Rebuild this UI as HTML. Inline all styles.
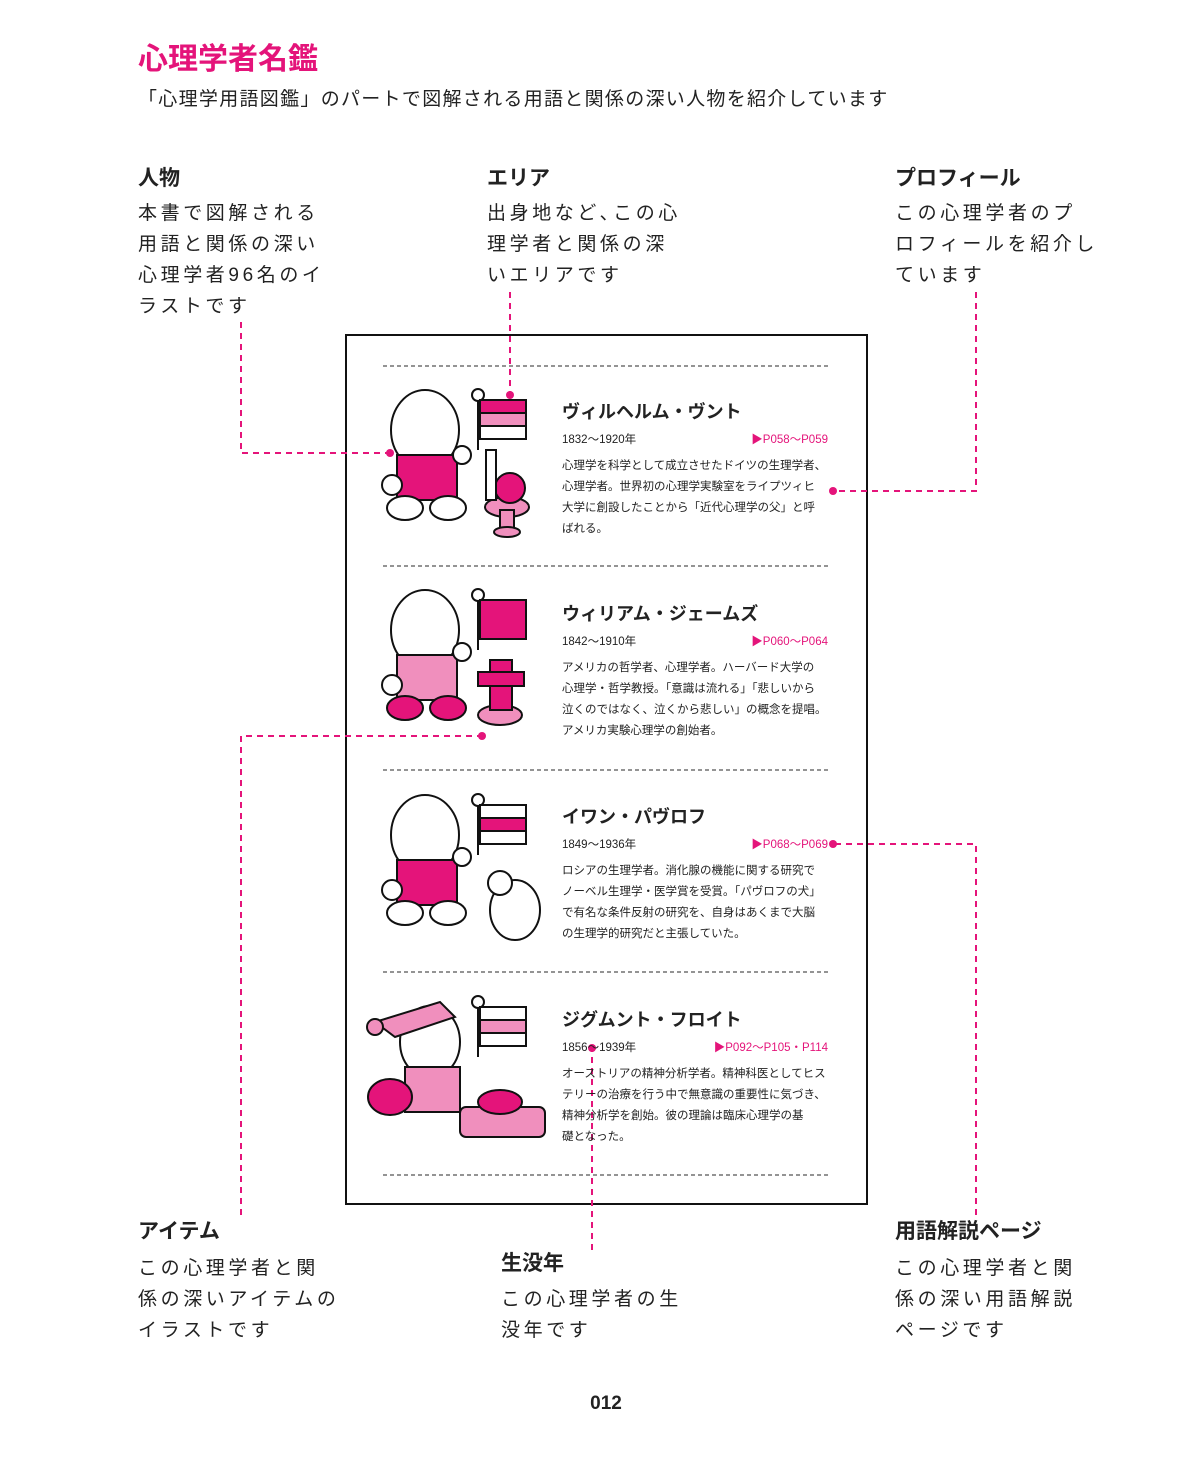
<!DOCTYPE html>
<html><head><meta charset="utf-8"><style>
body{margin:0;background:#fff;}
#p{position:relative;width:1200px;height:1468px;overflow:hidden;font-family:"Liberation Sans","Noto Sans CJK JP",sans-serif;color:#222;}
.a{position:absolute;white-space:nowrap;}
.h{font-weight:bold;font-size:21px;}
.b{font-size:19px;line-height:31px;letter-spacing:3.6px;}
.nm{font-weight:bold;font-size:18px;}
.yr{font-size:11.5px;}
.pg{font-size:11.5px;color:#e4147a;text-align:right;width:160px;}
.ds{font-size:11.5px;line-height:21px;}
</style></head><body><div id="p">
<div class="a" style="left:138px;top:34px;font-size:30px;font-weight:bold;color:#e4147a;">心理学者名鑑</div>
<div class="a" style="left:138px;top:84px;font-size:19px;letter-spacing:1.3px;">「心理学用語図鑑」のパートで図解される用語と関係の深い人物を紹介しています</div>

<div class="a h" style="left:138px;top:162px;">人物</div>
<div class="a b" style="left:138px;top:198px;">本書で図解される<br>用語と関係の深い<br>心理学者96名のイ<br>ラストです</div>
<div class="a h" style="left:487px;top:162px;">エリア</div>
<div class="a b" style="left:487px;top:198px;">出身地など､この心<br>理学者と関係の深<br>いエリアです</div>
<div class="a h" style="left:895px;top:162px;">プロフィール</div>
<div class="a b" style="left:895px;top:198px;">この心理学者のプ<br>ロフィールを紹介し<br>ています</div>

<div class="a h" style="left:138px;top:1215px;">アイテム</div>
<div class="a b" style="left:138px;top:1253px;">この心理学者と関<br>係の深いアイテムの<br>イラストです</div>
<div class="a h" style="left:501px;top:1247px;">生没年</div>
<div class="a b" style="left:501px;top:1284px;">この心理学者の生<br>没年です</div>
<div class="a h" style="left:895px;top:1215px;">用語解説ページ</div>
<div class="a b" style="left:895px;top:1253px;">この心理学者と関<br>係の深い用語解説<br>ページです</div>

<div class="a" style="left:0;width:1212px;text-align:center;top:1393px;font-size:19px;font-weight:bold;">012</div>

<svg class="a" style="left:0;top:0" width="1200" height="1468">
<rect x="346" y="335" width="521" height="869" fill="none" stroke="#111" stroke-width="2"/>
<g stroke="#555" stroke-width="1.2" stroke-dasharray="4,3">
<line x1="383" y1="366" x2="828" y2="366"/><line x1="383" y1="566" x2="828" y2="566"/>
<line x1="383" y1="770" x2="828" y2="770"/><line x1="383" y1="972" x2="828" y2="972"/>
<line x1="383" y1="1175" x2="828" y2="1175"/></g>
<g stroke="#111" stroke-width="2" fill="#fff">
<g><line x1="478" y1="395" x2="478" y2="450"/><circle cx="478" cy="395" r="6"/><rect x="480" y="400" width="46" height="13" fill="#e4147a"/><rect x="480" y="413" width="46" height="13" fill="#f08fbd"/><rect x="480" y="426" width="46" height="13"/></g>
<ellipse cx="425" cy="430" rx="34" ry="40"/><rect x="397" y="455" width="60" height="45" fill="#e4147a"/><ellipse cx="405" cy="508" rx="18" ry="12"/><ellipse cx="448" cy="508" rx="18" ry="12"/>
<circle cx="462" cy="455" r="9"/><circle cx="392" cy="485" r="10"/>
<ellipse cx="507" cy="507" rx="22" ry="10" fill="#f08fbd"/><rect x="500" y="510" width="14" height="20" fill="#f08fbd"/><ellipse cx="507" cy="532" rx="13" ry="5" fill="#f08fbd"/><circle cx="510" cy="488" r="15" fill="#e4147a"/><rect x="486" y="450" width="10" height="50"/>
<g transform="translate(0,200)"><line x1="478" y1="395" x2="478" y2="450"/><circle cx="478" cy="395" r="6"/><rect x="480" y="400" width="46" height="39" fill="#e4147a"/>
<ellipse cx="425" cy="430" rx="34" ry="40"/><rect x="397" y="455" width="60" height="45" fill="#f08fbd"/><ellipse cx="405" cy="508" rx="18" ry="12" fill="#e4147a"/><ellipse cx="448" cy="508" rx="18" ry="12" fill="#e4147a"/><circle cx="462" cy="452" r="9"/><circle cx="392" cy="485" r="10"/>
<ellipse cx="500" cy="515" rx="22" ry="10" fill="#f08fbd"/><rect x="490" y="460" width="22" height="50" fill="#e4147a"/><rect x="478" y="472" width="46" height="14" fill="#e4147a"/></g>
<g transform="translate(0,405)"><line x1="478" y1="395" x2="478" y2="450"/><circle cx="478" cy="395" r="6"/><rect x="480" y="400" width="46" height="13"/><rect x="480" y="413" width="46" height="13" fill="#e4147a"/><rect x="480" y="426" width="46" height="13"/>
<ellipse cx="425" cy="430" rx="34" ry="40"/><rect x="397" y="455" width="60" height="45" fill="#e4147a"/><ellipse cx="405" cy="508" rx="18" ry="12"/><ellipse cx="448" cy="508" rx="18" ry="12"/><circle cx="462" cy="452" r="9"/><circle cx="392" cy="485" r="10"/>
<ellipse cx="515" cy="505" rx="25" ry="30"/><circle cx="500" cy="478" r="12"/></g>
<g transform="translate(0,607)"><line x1="478" y1="395" x2="478" y2="450"/><circle cx="478" cy="395" r="6"/><rect x="480" y="400" width="46" height="13"/><rect x="480" y="413" width="46" height="13" fill="#f08fbd"/><rect x="480" y="426" width="46" height="13"/>
<ellipse cx="430" cy="435" rx="30" ry="36"/><path d="M375 415 L440 395 L455 410 L395 430Z" fill="#f08fbd"/><circle cx="375" cy="420" r="8" fill="#f08fbd"/><rect x="405" y="460" width="55" height="45" fill="#f08fbd"/><ellipse cx="390" cy="490" rx="22" ry="18" fill="#e4147a"/>
<rect x="460" y="500" width="85" height="30" rx="6" fill="#f08fbd"/><ellipse cx="500" cy="495" rx="22" ry="12" fill="#e4147a"/></g>
</g>
<g stroke="#e4147a" stroke-width="2" stroke-dasharray="6,5" fill="none">
<polyline points="241,322 241,453 390,453"/><polyline points="510,292 510,395"/>
<polyline points="976,292 976,491 833,491"/><polyline points="241,1215 241,736 482,736"/>
<polyline points="592,1250 592,1048"/><polyline points="976,1215 976,844 833,844"/></g>
<g fill="#e4147a"><circle cx="390" cy="453" r="4"/><circle cx="510" cy="395" r="4"/><circle cx="833" cy="491" r="4"/><circle cx="482" cy="736" r="4"/><circle cx="592" cy="1048" r="4"/><circle cx="833" cy="844" r="4"/></g>
</svg>

<div class="a nm" style="left:562px;top:398px;">ヴィルヘルム・ヴント</div>
<div class="a yr" style="left:562px;top:431px;">1832～1920年</div>
<div class="a pg" style="left:668px;top:431px;">▶P058～P059</div>
<div class="a ds" style="left:562px;top:456px;">心理学を科学として成立させたドイツの生理学者、<br>心理学者。世界初の心理学実験室をライプツィヒ<br>大学に創設したことから「近代心理学の父」と呼<br>ばれる。</div>

<div class="a nm" style="left:562px;top:600px;">ウィリアム・ジェームズ</div>
<div class="a yr" style="left:562px;top:633px;">1842～1910年</div>
<div class="a pg" style="left:668px;top:633px;">▶P060～P064</div>
<div class="a ds" style="left:562px;top:658px;">アメリカの哲学者、心理学者。ハーバード大学の<br>心理学・哲学教授。「意識は流れる」「悲しいから<br>泣くのではなく、泣くから悲しい」の概念を提唱。<br>アメリカ実験心理学の創始者。</div>

<div class="a nm" style="left:562px;top:803px;">イワン・パヴロフ</div>
<div class="a yr" style="left:562px;top:836px;">1849～1936年</div>
<div class="a pg" style="left:668px;top:836px;">▶P068～P069</div>
<div class="a ds" style="left:562px;top:861px;">ロシアの生理学者。消化腺の機能に関する研究で<br>ノーベル生理学・医学賞を受賞。「パヴロフの犬」<br>で有名な条件反射の研究を、自身はあくまで大脳<br>の生理学的研究だと主張していた。</div>

<div class="a nm" style="left:562px;top:1006px;">ジグムント・フロイト</div>
<div class="a yr" style="left:562px;top:1039px;">1856～1939年</div>
<div class="a pg" style="left:668px;top:1039px;">▶P092～P105・P114</div>
<div class="a ds" style="left:562px;top:1064px;">オーストリアの精神分析学者。精神科医としてヒス<br>テリーの治療を行う中で無意識の重要性に気づき、<br>精神分析学を創始。彼の理論は臨床心理学の基<br>礎となった。</div>
</div></body></html>
